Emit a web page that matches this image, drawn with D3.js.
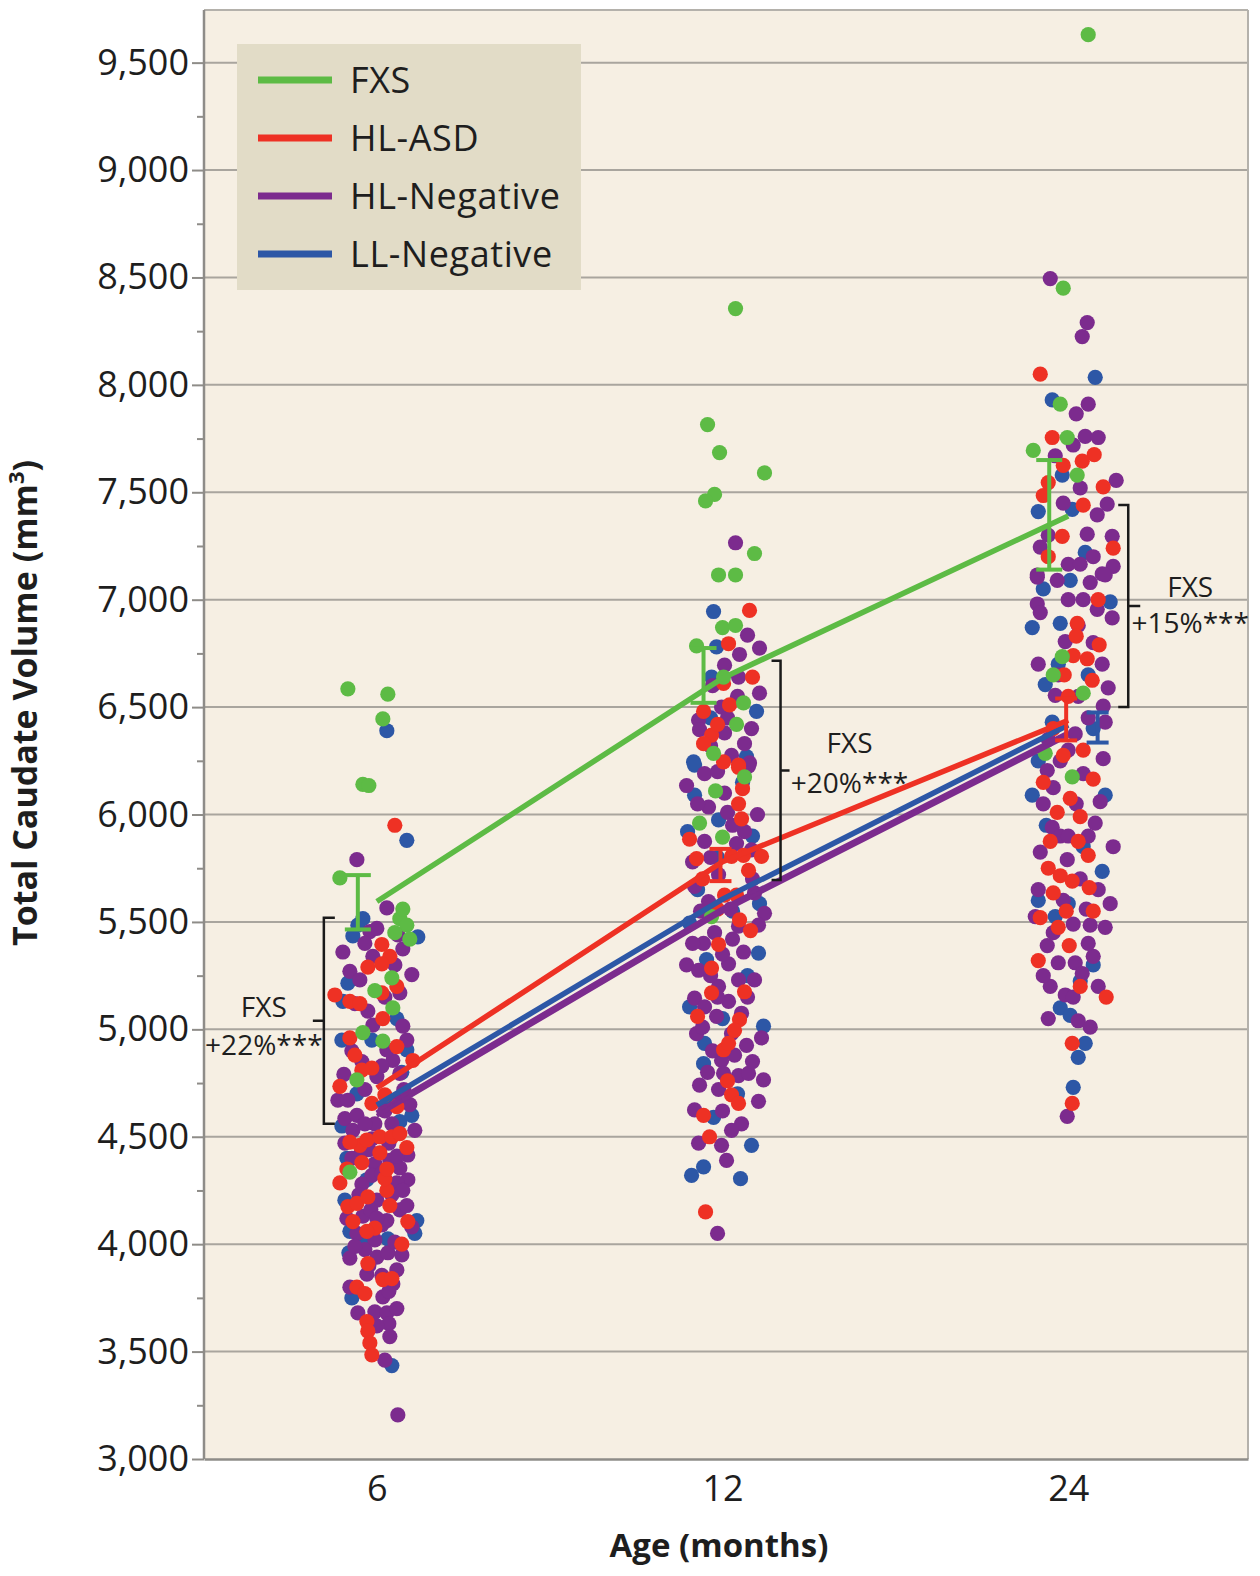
<!DOCTYPE html>
<html><head><meta charset="utf-8">
<script src="https://cdn.jsdelivr.net/npm/d3@7"></script>
<style>
body{margin:0;background:#fff}
svg{display:block}
text{font-family:"Open Sans","Noto Sans",sans-serif;fill:#1e1e1e}
</style>
</head><body>
<svg id="c" width="1260" height="1576"></svg>
<script>
// ---------------- DATA ----------------
const ages = ["6", "12", "24"];
const groups = ["FXS", "HL-ASD", "HL-Negative", "LL-Negative"];
const yTicks = [3000,3500,4000,4500,5000,5500,6000,6500,7000,7500,8000,8500,9000,9500];
const yMinorTicks = [3250,3750,4250,4750,5250,5750,6250,6750,7250,7750,8250,8750,9250];

// group means (mm3) at 6, 12, 24 months
const meanFXS = [5595, 6635, 7390];
const meanHLASD = [4727, 5780, 6439];
const meanHLNeg = [4610, 5560, 6379];
const meanLLNeg = [4647, 5606, 6416];

// error bars (low, high); null = not visible in figure
const errLoFXS = [5465, 6520, 7140], errHiFXS = [5718, 6775, 7650];
const errLoHLASD = [null, 5690, 6345], errHiHLASD = [null, 5840, 6540];
const errLoLLNeg = [null, null, 6335], errHiLLNeg = [null, null, 6475];

// bracket annotations (FXS vs others)
const bracketTop = [5520, 6716, 7441];
const bracketBottom = [4560, 5695, 6500];
const bracketGroup = ["FXS", "FXS", "FXS"];
const bracketLabel = ["+22%***", "+20%***", "+15%***"];

// individual scans: [jitter, volume]; jitter in units of 1/346 of category spacing
const fxs6 = [[-29,6585],[11,6560],[6,6445],[-14,6140],[-8,6135],[-37,5705],[23,5515],[30,5485],[18,5450],[33,5420],[26,5560],[15,5240],[-2,5180],[16,5100],[-14,4985],[6,4945],[-20,4765],[-27,4335]];
const fxs12 = [[13,8355],[-15,7815],[-3,7685],[42,7590],[-8,7490],[-17,7460],[32,7215],[-4,7115],[13,7115],[0,6870],[13,6880],[-26,6785],[1,6640],[21,6520],[14,6420],[-9,6285],[22,6175],[-7,6110],[-23,5960],[0,5895],[-11,5525]];
const fxs24 = [[20,9630],[-5,8450],[-8,7910],[-1,7755],[-35,7695],[9,7580],[-6,6735],[-15,6650],[15,6565],[4,6175],[-23,6285]];

const asd6 = [[18,5950],[5,5395],[13,5340],[-9,5290],[5,5305],[20,5200],[-42,5160],[-27,5130],[-17,5120],[5,5170],[6,5050],[-27,4960],[20,4920],[36,4855],[-5,4820],[-15,4810],[-37,4735],[-5,4655],[8,4695],[-17,4460],[-27,4475],[-10,4485],[3,4500],[15,4500],[23,4515],[3,4425],[-37,4285],[10,4250],[8,4305],[13,4180],[-29,4175],[-20,4190],[-9,4220],[-2,4075],[-24,4105],[31,4105],[-9,3910],[-20,3800],[-12,3770],[6,3835],[15,3840],[-10,3640],[-9,3595],[-7,3540],[-5,3485],[-15,4380],[10,4350],[-30,4350],[20,4640],[-22,4880],[25,4000],[-10,4060],[30,4450]];
const asd12 = [[27,6950],[6,6795],[30,6640],[1,6610],[7,6510],[-19,6480],[-11,6370],[-19,6330],[1,6245],[16,6230],[16,6220],[16,6050],[19,5980],[-33,5885],[-26,5795],[9,5805],[21,5810],[39,5805],[26,5740],[2,5625],[14,5625],[17,5510],[-4,5395],[-11,5285],[-11,5170],[22,5175],[17,5045],[12,4995],[1,4905],[6,4935],[9,4695],[16,4655],[-19,4600],[-13,4500],[-17,4150],[-5,6420],[20,6120],[-20,5700],[-5,5560],[28,5460],[-25,5060],[5,4760]];
const asd24 = [[-28,8050],[-16,7755],[26,7675],[14,7645],[-5,7625],[35,7525],[-20,7545],[-25,7485],[15,7440],[-6,7295],[45,7240],[9,6890],[8,6830],[31,6790],[19,6725],[5,6740],[-4,6650],[24,6625],[0,6550],[-5,6275],[25,6165],[2,6075],[-11,6010],[12,5990],[10,5875],[-18,5875],[20,5810],[-8,5715],[4,5690],[-15,5635],[21,5660],[-28,5520],[-10,5475],[1,5390],[-30,5320],[38,5150],[4,4935],[4,4655],[-20,7200],[30,7000],[-15,6400],[15,6300],[-25,6150],[-2,5550],[25,5550],[-20,5750],[12,5200]];

const neg6 = [[-20,5790],[10,5565],[-7,5455],[0,5470],[21,5440],[26,5375],[-34,5360],[-4,5340],[-27,5270],[35,5255],[-17,5230],[23,5170],[-9,5085],[26,5015],[-4,5020],[16,4855],[23,4795],[10,4905],[23,4680],[33,4650],[-39,4670],[-29,4670],[-32,4585],[-2,4560],[38,4530],[-24,4530],[-32,4470],[-17,4415],[31,4415],[13,4390],[-2,4375],[23,4355],[-5,4320],[31,4300],[20,4285],[26,4250],[0,4205],[23,4160],[-14,4130],[10,4110],[35,4080],[-2,4020],[-12,3975],[-27,3935],[0,3940],[11,3960],[20,3880],[5,3855],[16,3815],[-27,3800],[6,3755],[-19,3680],[-2,3685],[10,3680],[20,3700],[12,3630],[13,3570],[8,3460],[21,3205],[0,4780],[-12,4720],[8,4620],[-8,4440],[12,4470],[-15,4280],[5,4090],[-6,4160],[18,4010],[-20,4050],[-10,3860],[12,3780],[0,3620],[-25,4900],[-15,4850],[5,4830],[-20,4600],[15,4560],[-5,4490],[-25,4400],[20,4410],[5,4330],[-18,4230],[15,4230],[-30,4120],[0,4120],[-22,3990],[25,3950],[-8,3900],[30,4180],[-12,4560],[27,4720],[-33,4790],[8,5150],[-22,5120],[18,5300],[-12,5400],[30,4950]];
const neg12 = [[13,7265],[25,6835],[37,6775],[17,6745],[2,6695],[16,6640],[37,6565],[-1,6500],[-24,6440],[29,6400],[-23,6395],[2,6380],[22,6330],[9,6275],[27,6240],[26,6225],[-18,6190],[-36,6135],[2,6100],[-14,6035],[22,5920],[-18,5875],[14,5865],[29,5835],[-4,5720],[-28,5665],[32,5635],[-14,5595],[42,5540],[16,5480],[36,5485],[-19,5400],[21,5360],[-36,5300],[-24,5275],[6,5305],[32,5230],[16,5230],[-4,5200],[-28,5145],[-18,5105],[6,5130],[-6,5060],[19,5075],[-26,4980],[9,4980],[39,4960],[24,4925],[-1,4855],[1,4795],[16,4785],[26,4795],[41,4765],[-23,4740],[-4,4720],[36,4665],[-28,4625],[19,4560],[9,4530],[-24,4470],[-1,4460],[4,4390],[-5,4050],[-8,5450],[8,5560],[-20,5010],[0,4620],[-10,4900],[10,5420],[-12,6320],[5,6010],[-30,5780],[-10,6600],[15,6550],[-25,6050],[10,5950],[-12,5800],[30,5700],[-22,5550],[0,5350],[-12,5250],[25,5150],[-5,5150],[12,4880],[-15,4800],[30,4850],[-30,5400],[5,6450],[-5,6200],[35,6000]];
const neg24 = [[-18,8495],[19,8290],[14,8225],[20,7910],[8,7865],[17,7760],[30,7755],[5,7720],[-13,7670],[48,7555],[12,7520],[39,7445],[29,7395],[19,7305],[44,7295],[-28,7245],[45,7155],[-31,7115],[34,7120],[0,7165],[12,7165],[-31,7105],[-11,7090],[22,7080],[37,7115],[-31,6980],[-28,6940],[29,6955],[44,6915],[-3,6805],[34,6700],[40,6590],[-13,6555],[35,6505],[37,6430],[7,6375],[35,6260],[-21,6205],[15,6190],[-15,6125],[32,6060],[-16,5940],[27,5960],[45,5850],[-28,5825],[-1,5790],[42,5585],[-33,5525],[5,5490],[22,5485],[37,5475],[-21,5390],[25,5340],[-10,5310],[7,5310],[14,5260],[-18,5200],[-3,5160],[10,5040],[22,5010],[-1,4595],[0,7000],[10,6880],[-20,6350],[20,6450],[-8,6250],[8,6050],[-5,5600],[18,5560],[-8,5900],[12,5700],[-25,5250],[-5,7450],[25,7200],[-20,7300],[15,7000],[-10,6650],[25,6800],[-30,6700],[10,6550],[-25,6050],[20,5900],[0,5900],[-30,5650],[30,5650],[-15,5450],[20,5400],[5,5150],[-20,5050],[30,5200],[0,6300]];

const ll6 = [[10,6390],[30,5880],[-19,5485],[-24,5435],[-14,5515],[41,5430],[-29,5215],[-34,5130],[-35,4950],[30,4905],[23,4570],[-32,4205],[-27,4060],[38,4050],[40,4110],[-14,4010],[11,4025],[-5,3640],[-25,3750],[15,3435],[-20,4700],[12,4650],[-30,4400],[25,4800],[-10,4300],[-35,4550],[35,4600],[-5,4950],[20,5050],[-28,3960]];
const ll12 = [[-9,6945],[-6,6780],[-11,6640],[34,6480],[-29,6245],[24,6270],[-28,6230],[-28,6090],[-4,5975],[37,5585],[-33,5495],[36,5355],[-16,5325],[-33,5105],[41,5015],[-18,4935],[-19,4840],[-9,4590],[29,4460],[-19,4360],[-31,4320],[18,4305],[10,5550],[-5,5800],[20,6150],[-25,5650],[15,4700],[30,5900],[-35,5920],[25,5250],[-12,6450],[0,5050]];
const ll24 = [[27,8035],[-16,7930],[-6,7580],[-30,7410],[4,7420],[17,7220],[2,7090],[42,6990],[-36,6870],[-8,6890],[-23,6605],[-16,6430],[-36,6090],[37,6090],[34,5735],[0,5585],[-13,5525],[12,5225],[-8,5100],[2,5065],[17,4935],[10,4870],[5,4730],[25,6400],[-10,6700],[15,5850],[-25,7050],[20,6650],[-30,6250],[-22,5950],[25,5300],[-30,5600]];

// ---------------- CHART ----------------
const color = {"FXS":"#5dbb45","HL-ASD":"#ee3124","HL-Negative":"#7c2b8e","LL-Negative":"#2d57a6"};
const points = {"FXS":[fxs6,fxs12,fxs24],"HL-ASD":[asd6,asd12,asd24],"HL-Negative":[neg6,neg12,neg24],"LL-Negative":[ll6,ll12,ll24]};
const means = {"FXS":meanFXS,"HL-ASD":meanHLASD,"HL-Negative":meanHLNeg,"LL-Negative":meanLLNeg};
const errs = [
  {g:"FXS", lo:errLoFXS, hi:errHiFXS, dodge:-0.055, cap:26},
  {g:"HL-ASD", lo:errLoHLASD, hi:errHiHLASD, dodge:-0.006, cap:22},
  {g:"LL-Negative", lo:errLoLLNeg, hi:errHiLLNeg, dodge:0.085, cap:22}
];
const JIT = 1/346;

const svg = d3.select("#c");
const M = {l:204, r:1248, t:10, b:1459};
const x = d3.scaleLinear().domain([-0.5, 2.52]).range([M.l, M.r]);
const y = d3.scaleLinear().domain([3000, 9745]).range([M.b, M.t]);

svg.append("rect").attr("x",M.l).attr("y",M.t).attr("width",M.r-M.l).attr("height",M.b-M.t).attr("fill","#f6efe3");

// gridlines
svg.append("g").selectAll("line").data(yTicks.filter(v=>v>3000)).join("line")
  .attr("x1",M.l).attr("x2",M.r).attr("y1",d=>y(d)).attr("y2",d=>y(d))
  .attr("stroke","#a9a59e").attr("stroke-width",2);

// dots
const drawOrder = ["LL-Negative","HL-Negative","HL-ASD","FXS"];
const dotG = svg.append("g");
drawOrder.forEach(g=>{
  points[g].forEach((arr,t)=>{
    dotG.append("g").selectAll("circle").data(arr).join("circle")
      .attr("cx",d=>x(t + d[0]*JIT)).attr("cy",d=>y(d[1])).attr("r",7.6)
      .attr("fill",color[g]);
  });
});

// mean lines
const line = d3.line().x((d,i)=>x(i)).y(d=>y(d));
["HL-Negative","LL-Negative","HL-ASD","FXS"].forEach(g=>{
  svg.append("path").attr("d",line(means[g])).attr("fill","none")
    .attr("stroke",color[g]).attr("stroke-width",5.5).attr("stroke-linecap","butt");
});
svg.append("path").attr("d",line(meanHLNeg.map(v=>v-12))).attr("fill","none")
  .attr("stroke",color["HL-Negative"]).attr("stroke-width",4);

// error bars
errs.forEach(e=>{
  const gg = svg.append("g").attr("stroke",color[e.g]).attr("stroke-width",4);
  [0,1,2].forEach(t=>{
    if (e.lo[t] == null) return;
    const cx = x(t + e.dodge);
    gg.append("line").attr("x1",cx).attr("x2",cx).attr("y1",y(e.lo[t])).attr("y2",y(e.hi[t]));
    gg.append("line").attr("x1",cx-e.cap/2).attr("x2",cx+e.cap/2).attr("y1",y(e.lo[t])).attr("y2",y(e.lo[t]));
    gg.append("line").attr("x1",cx-e.cap/2).attr("x2",cx+e.cap/2).attr("y1",y(e.hi[t])).attr("y2",y(e.hi[t]));
  });
});

// frame
svg.append("line").attr("x1",M.l).attr("x2",M.r).attr("y1",M.t).attr("y2",M.t).attr("stroke","#b4b1ab").attr("stroke-width",2);
svg.append("line").attr("x1",M.r).attr("x2",M.r).attr("y1",M.t).attr("y2",M.b).attr("stroke","#b4b1ab").attr("stroke-width",2);

// y axis
const yAx = svg.append("g").attr("transform",`translate(${M.l},0)`)
  .call(d3.axisLeft(y).tickValues(yTicks).tickFormat(d3.format(",")).tickSize(12).tickPadding(3));
yAx.select(".domain").remove();
yAx.selectAll(".tick line").attr("stroke","#8e8c88").attr("stroke-width",2);
yAx.selectAll("text").attr("font-size",36).attr("fill","#1e1e1e").attr("font-family",'"Open Sans","Noto Sans",sans-serif');
const yMin = svg.append("g").attr("transform",`translate(${M.l},0)`)
  .call(d3.axisLeft(y).tickValues(yMinorTicks).tickFormat("").tickSize(7));
yMin.select(".domain").remove();
yMin.selectAll(".tick line").attr("stroke","#8e8c88").attr("stroke-width",2);
svg.append("line").attr("x1",M.l).attr("x2",M.l).attr("y1",M.t).attr("y2",M.b).attr("stroke","#8e8c88").attr("stroke-width",2.5);

// x axis
const xAx = svg.append("g").attr("transform",`translate(0,${M.b})`)
  .call(d3.axisBottom(x).tickValues([0,1,2]).tickFormat(i=>ages[i]).tickSize(0).tickPadding(16));
xAx.select(".domain").attr("stroke","#8e8c88").attr("stroke-width",2.5);
xAx.selectAll("text").attr("font-size",36).attr("fill","#1e1e1e").attr("font-family",'"Open Sans","Noto Sans",sans-serif');

// axis titles
svg.append("text").attr("x",719).attr("y",1557).attr("text-anchor","middle")
  .attr("font-size",33).attr("font-weight",700).text("Age (months)");
const yt = svg.append("text").attr("transform","translate(37,703) rotate(-90)").attr("text-anchor","middle")
  .attr("font-size",34).attr("font-weight",700);
yt.append("tspan").text("Total Caudate Volume (mm");
yt.append("tspan").attr("font-size",22).attr("dy",-13).text("3");
yt.append("tspan").attr("dy",13).text(")");

// legend
svg.append("rect").attr("x",237).attr("y",44).attr("width",344).attr("height",246).attr("fill","#e2dcc7");
const lg = svg.append("g").selectAll("g").data(groups).join("g")
  .attr("transform",(d,i)=>`translate(0,${80 + i*58})`);
lg.append("line").attr("x1",258).attr("x2",332).attr("stroke",d=>color[d]).attr("stroke-width",7);
lg.append("text").attr("x",350).attr("dy","0.36em").attr("font-size",36).attr("letter-spacing",0.6).text(d=>d);

// brackets
const bl = [
  {dx:-53, arm:11, tick:-11, tx:-60, y1:-4, y2:34},
  {dx:58, arm:-9, tick:9, tx:69, y1:-17, y2:23},
  {dx:60, arm:-10, tick:12, tx:62, y1:-9, y2:27}
];
[0,1,2].forEach(i=>{
  const L = bl[i];
  const bx = x(i) + L.dx;
  const yt0 = y(bracketTop[i]), yb0 = y(bracketBottom[i]), ym = y((bracketTop[i]+bracketBottom[i])/2);
  svg.append("path").attr("d",`M${bx+L.arm},${yt0}H${bx}V${yb0}H${bx+L.arm}M${bx},${ym}H${bx+L.tick}`)
    .attr("fill","none").attr("stroke","#1a1a1a").attr("stroke-width",2.5);
  svg.append("text").attr("x",bx+L.tx).attr("y",ym+L.y1).attr("text-anchor","middle").attr("font-size",28).text(bracketGroup[i]);
  svg.append("text").attr("x",bx+L.tx).attr("y",ym+L.y2).attr("text-anchor","middle").attr("font-size",28).text(bracketLabel[i]);
});
</script>
</body></html>
